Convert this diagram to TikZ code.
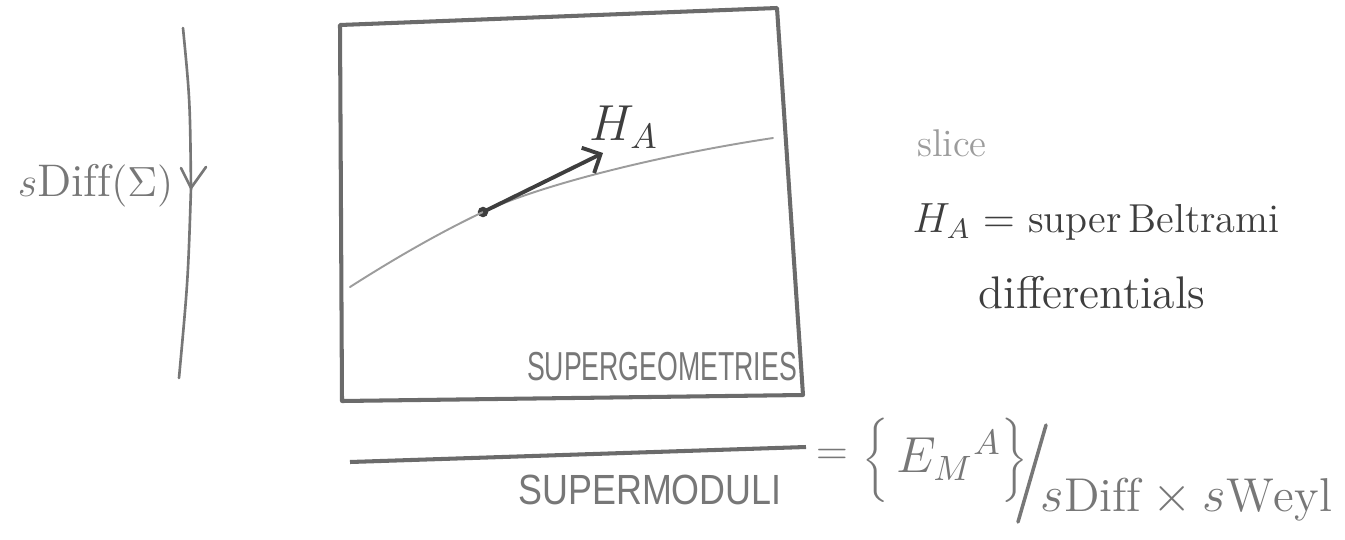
\documentclass[tikz,border=0pt]{standalone}
\usepackage{fontspec}
\newfontfamily\sketchcaps[FakeStretch=0.66]{Liberation Sans}
\newfontfamily\sketchcapswide[FakeStretch=0.85]{Liberation Sans}
\usetikzlibrary{arrows.meta,positioning}

\definecolor{pencil}{HTML}{777777}
\definecolor{ink}{HTML}{3E3E3E}
\definecolor{faint}{HTML}{9C9C9C}

\tikzset{
	pencil line/.style={draw=pencil,line width=0.75pt,line cap=round,line join=round},
	box line/.style={draw=pencil!90!black,line width=1.15pt,line join=round},
	slice line/.style={draw=faint,line width=0.55pt,line cap=round},
	tangent/.style={draw=ink,line width=1.1pt,-{Straight Barb[length=4pt,width=8pt,line width=1.1pt]}},
	dotnode/.style={circle,fill=ink,inner sep=0pt,minimum size=3pt},
	caps/.style={text=pencil,font=\sketchcaps\fontsize{11.5}{13}\selectfont,inner sep=0pt},
	hand/.style={text=ink,font=\fontsize{13}{15}\selectfont,inner sep=0pt}
}

\begin{document}
\begin{tikzpicture}[x=0.01cm,y=-0.01cm]
	\useasboundingbox (0,0) rectangle (1345,539);
	% fibre with the group action
	\coordinate (ftop) at (183,28);
	\coordinate (fmid) at (191,188);
	\coordinate (fbot) at (179,378);
	\draw[pencil line] (ftop) .. controls (190,100) .. (fmid) .. controls (188,280) .. (fbot);
	\draw[pencil line] (fmid) -- ++(-10,-20) (fmid) -- ++(15,-21);
	\node[text=pencil,font=\fontsize{13}{15}\selectfont,inner sep=0pt,anchor=east] (sdiff) at (174,186) {$s\mathrm{Diff}(\Sigma)$};

	% the space of supergeometries
	\coordinate (tl) at (340,25);
	\coordinate (tr) at (777,8);
	\coordinate (br) at (803,395);
	\coordinate (bl) at (342,401);
	\draw[box line] (tl) -- (tr) -- (br) -- (bl) -- cycle;
	\node[caps] (sgeom) at (662,367) {SUPERGEOMETRIES};

	% slice and tangent vector
	\coordinate (sl) at (350,287);
	\coordinate (sr) at (773,138);
	\node[dotnode] (dot) at (483,212) {};
	\draw[slice line] (sl) .. controls (400,255) and (445,230) .. (dot.center)
		.. controls (540,185) and (660,155) .. (sr);
	\coordinate (tip) at (603,153);
	\draw[tangent] (dot.center) -- (tip);
	\node[hand,font=\fontsize{14}{16}\selectfont] (ha) at (624,127) {$H_A$};

	% remarks on the right
	\node[text=faint,font=\fontsize{11}{13}\selectfont,inner sep=0pt] (slice) at (952,143) {slice};
	\node[hand,anchor=west,font=\fontsize{11.5}{14}\selectfont] (beltrami) at (912,222) {$H_A=$ super\,Beltrami};
	\node[hand] (differentials) at (1092,293) {differentials};

	% moduli as a quotient
	\coordinate (ql) at (350,462);
	\coordinate (qr) at (806,447);
	\draw[box line] (ql) -- (qr);
	\node[caps,font=\sketchcapswide\fontsize{12}{14}\selectfont] (smod) at (650,490) {SUPERMODULI};
	\node[text=pencil,font=\fontsize{13}{15}\selectfont,inner sep=0pt] (eq) at (832,457) {$=$};
	\node[text=pencil,font=\fontsize{14}{16}\selectfont,inner sep=0pt] (emset) at (945,460) {$\biggl\{\,E_M{}^{A}\biggr\}$};
	\coordinate (slt) at (1046,425);
	\coordinate (slb) at (1018,522);
	\draw[pencil line,line width=1pt] (slt) -- (slb);
	\node[text=pencil,font=\fontsize{13.5}{16}\selectfont,inner sep=0pt,anchor=west] (group) at (1040,500) {$s\mathrm{Diff}\times s\mathrm{Weyl}$};
\end{tikzpicture}
\end{document}
